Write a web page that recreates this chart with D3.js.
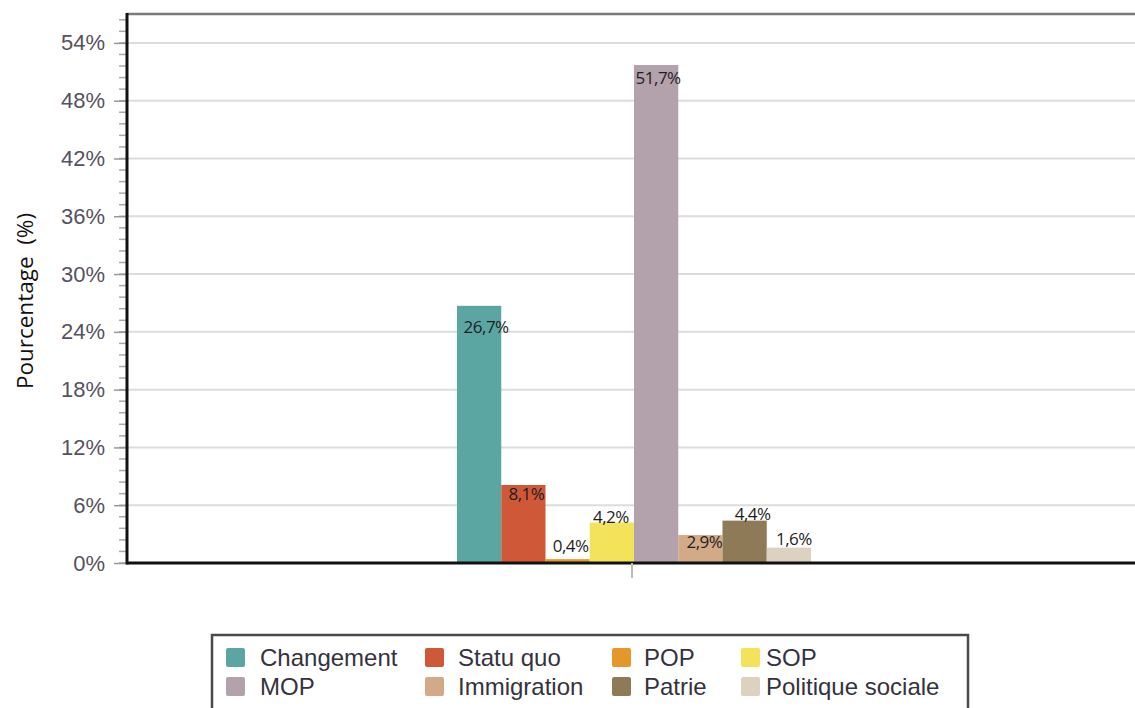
<!DOCTYPE html>
<html><head><meta charset="utf-8">
<script src="https://cdn.jsdelivr.net/npm/d3@7"></script>
<style>body{margin:0;background:#fff}svg{display:block}</style>
</head><body><svg id="c" width="1135" height="708"></svg>
<script>
(function(){
const categories = ["Changement","Statu quo","POP","SOP","MOP","Immigration","Patrie","Politique sociale"];
const values = [26.7, 8.1, 0.4, 4.2, 51.7, 2.9, 4.4, 1.6];
const valueLabels = ["26,7%","8,1%","0,4%","4,2%","51,7%","2,9%","4,4%","1,6%"];
const colors = ["#5ba6a3","#cf5839","#e4982b","#f3e35a","#b3a1ac","#d3aa88","#8e7a56","#ddd2bf"];
const yTicks = [0,6,12,18,24,30,36,42,48,54];
const yTickLabels = ["0%","6%","12%","18%","24%","30%","36%","42%","48%","54%"];

const svg = d3.select("#c");
const pLeft = 127, pRight = 1135, pTop = 14, pBottom = 563;
const y = d3.scaleLinear().domain([0,57]).range([pBottom, pTop]);
const x = d3.scaleBand().domain(categories).range([457, 811]).paddingInner(0);

// gridlines
svg.append("g").selectAll("line").data(yTicks.filter(d=>d>0)).join("line")
  .attr("x1", pLeft).attr("x2", pRight).attr("y1", d=>y(d)).attr("y2", d=>y(d))
  .attr("stroke", "#dcdcdc").attr("stroke-width", 2);
// top frame
svg.append("line").attr("x1", pLeft).attr("x2", pRight).attr("y1", pTop).attr("y2", pTop)
  .attr("stroke", "#7a7a7a").attr("stroke-width", 2.5);

// minor ticks
const minor = d3.range(0, 57.01, 1.2);
svg.append("g").selectAll("line").data(minor).join("line")
  .attr("x1", 119).attr("x2", pLeft).attr("y1", d=>y(d)).attr("y2", d=>y(d))
  .attr("stroke", "#aaa").attr("stroke-width", 1.5);

// y axis
const yAxis = d3.axisLeft(y).tickValues(yTicks).tickFormat((d,i)=>yTickLabels[i]).tickSize(13).tickPadding(9);
const ga = svg.append("g").attr("transform", `translate(${pLeft},0)`).call(yAxis);
ga.select(".domain").remove();
ga.selectAll(".tick line").attr("stroke", "#999").attr("stroke-width", 1.5);
ga.selectAll(".tick text").attr("fill", "#565260").style("font-family", "Liberation Sans, Arial, sans-serif").style("font-size", "22px");

// bars
svg.append("g").selectAll("rect").data(values).join("rect")
  .attr("x", (d,i)=>x(categories[i])).attr("width", x.bandwidth())
  .attr("y", d=>y(d)).attr("height", d=>pBottom - y(d))
  .attr("fill", (d,i)=>colors[i]);

// axis lines
svg.append("line").attr("x1", pLeft).attr("x2", pLeft).attr("y1", pTop-1).attr("y2", pBottom+1.5)
  .attr("stroke", "#111").attr("stroke-width", 3);
svg.append("line").attr("x1", pLeft).attr("x2", pRight).attr("y1", pBottom).attr("y2", pBottom)
  .attr("stroke", "#111").attr("stroke-width", 3);
// category tick
svg.append("line").attr("x1", 632).attr("x2", 632).attr("y1", pBottom).attr("y2", pBottom+15)
  .attr("stroke", "#bbb").attr("stroke-width", 2);

// value labels
const labelOffset = {"Changement":27,"Statu quo":15,"POP":-7,"SOP":0,"MOP":19,"Immigration":13,"Patrie":-1,"Politique sociale":-3};
const labelShift = {"Changement":7,"Statu quo":3,"POP":3,"SOP":-1,"MOP":2,"Immigration":4,"Patrie":8,"Politique sociale":5};
svg.append("g").selectAll("text").data(values).join("text")
  .attr("x", (d,i)=>x(categories[i]) + x.bandwidth()/2 + labelShift[categories[i]])
  .attr("y", (d,i)=>y(d) + labelOffset[categories[i]])
  .attr("text-anchor", "middle")
  .style("font-family", "Open Sans, Noto Sans, sans-serif").style("font-size", "17px")
  .style("letter-spacing", "-0.5px")
  .attr("fill", "#1e1e1e")
  .text((d,i)=>valueLabels[i]);

// y title
svg.append("text").attr("transform", "translate(33,301) rotate(-90)").attr("text-anchor", "middle")
  .style("font-family", "Open Sans, Noto Sans, sans-serif").style("font-size", "22.5px").style("white-space", "pre")
  .attr("fill", "#111")
  .text("Pourcentage  (%)");

// legend
const lg = svg.append("g");
lg.append("rect").attr("x", 212).attr("y", 635).attr("width", 756).attr("height", 85)
  .attr("fill", "#fff").attr("stroke", "#4a4a4a").attr("stroke-width", 2.5);
const swX = [226, 425, 612, 741];
const txX = [260, 458, 644, 766];
const baseY = [666, 695];
categories.forEach((c,i)=>{
  const col = i%4, row = Math.floor(i/4);
  lg.append("rect").attr("x", swX[col]).attr("y", baseY[row]-18).attr("width", 19).attr("height", 19).attr("rx", 2)
    .attr("fill", colors[i]);
  lg.append("text").attr("x", txX[col]).attr("y", baseY[row])
    .style("font-family", "Liberation Sans, Arial, sans-serif").style("font-size", "24px").attr("fill", "#35323d")
    .text(c);
});
})();
</script></body></html>
